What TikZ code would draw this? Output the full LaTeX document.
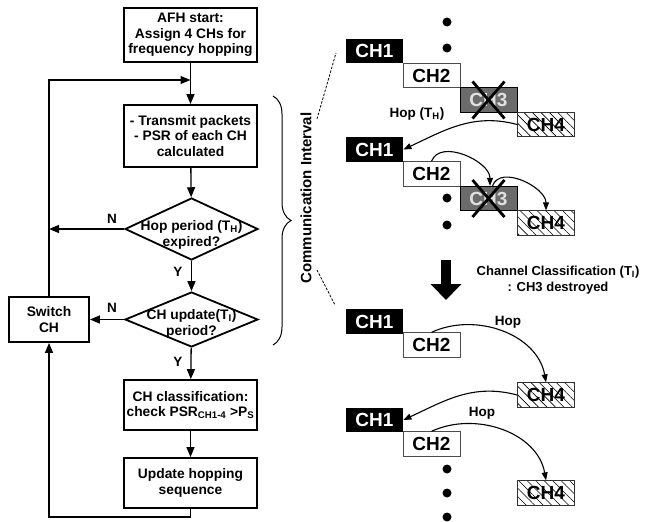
\documentclass[tikz,border=0pt]{standalone}
\usepackage{fontspec}
\setmainfont{Liberation Sans}
\usetikzlibrary{shapes.geometric,arrows.meta,patterns.meta,decorations.pathreplacing}
\definecolor{chgray}{HTML}{6B6B6B}
\begin{document}
\begin{tikzpicture}[x=1pt,y=-1pt,
  font=\bfseries\fontsize{13.8}{15.5}\selectfont,
  fbox/.style={draw,line width=1.8pt,minimum width=133pt,align=center,inner sep=0pt},
  dia/.style={draw,diamond,line width=1.8pt,inner sep=0pt,minimum width=133pt},
  dtext/.style={align=center,inner sep=0pt},
  lbl/.style={inner sep=0pt,font=\bfseries\fontsize{13.5}{15}\selectfont},
  conn/.style={line width=1.3pt,-{Triangle[length=10pt,width=8pt]}},
  chbase/.style={minimum width=57pt,minimum height=24.5pt,inner sep=0pt,line width=0.8pt,
    font=\bfseries\fontsize{19}{19}\selectfont},
  chk/.style={chbase,fill=black,text=white},
  chw/.style={chbase,draw=black!70,fill=white},
  chg/.style={chbase,draw=black,fill=chgray,text=black!12},
  chh/.style={chbase,draw=black!80,pattern={Lines[angle=-45,distance=6pt,line width=0.6pt]}},
  hoparr/.style={line width=1.1pt,-{Triangle[length=8pt,width=6pt]}},
  crossx/.style={line width=2.8pt},
  hoplbl/.style={inner sep=0pt,font=\bfseries\fontsize{13.5}{15}\selectfont},
  dot/.style={fill=black}
]
\useasboundingbox (0,0) rectangle (649,522);

% ---------- flowchart ----------
\node[fbox,minimum height=54pt] (afh) at (190.5,35) {AFH start:\\Assign 4 CHs for\\frequency hopping};
\node[fbox,minimum height=62pt] (tx) at (190.5,136) {- Transmit packets\\- PSR of each CH\\calculated};
\node[dia,minimum height=62pt] (d1) at (191.5,229) {};
\node[dtext] (d1t) at (191.5,235) {Hop period (T\textsubscript{H})\\expired?};
\node[dia,minimum height=55pt] (d2) at (191.5,319.5) {};
\node[dtext] (d2t) at (191.5,324) {CH update(T\textsubscript{I})\\period?};
\node[fbox,minimum width=80pt,minimum height=45pt] (sw) at (49,319.5) {Switch\\CH};
\node[fbox,minimum height=50pt] (cls) at (190.5,405) {CH classification:\\check PSR\textsubscript{CH1-4} >P\textsubscript{S}};
\node[fbox,minimum height=50pt] (upd) at (190.5,483) {Update hopping\\sequence};

\coordinate (lt) at (49,80);
\coordinate (mj) at (190.5,80);
\coordinate (n1) at (49,229);
\coordinate (b1) at (190.5,517);
\coordinate (b2) at (49,517);

\draw[line width=1.3pt] (afh.south) -- (mj);
\draw[conn] (mj) -- (tx.north);
\draw[conn] (sw.north) -- (lt) -- (mj);
\draw[conn] (tx) -- (d1);
\draw[conn] (d1.west) -- (n1);
\draw[conn] (d1) -- (d2);
\draw[conn] (d2.west) -- (sw.east);
\draw[conn] (d2) -- (cls);
\draw[conn] (cls) -- (upd);
\draw[conn] (upd.south) -- (b1) -- (b2) -- (sw.south);

\node[lbl] (ln1) at (112,219) {N};
\node[lbl] (ln2) at (112,308) {N};
\node[lbl] (ly1) at (178,272) {Y};
\node[lbl] (ly2) at (178,362) {Y};

% ---------- brace ----------
\coordinate (brt) at (273,96);
\coordinate (brb) at (273,345);
\draw[line width=1pt,decorate,decoration={brace,amplitude=18pt}] (brt) -- (brb);
\node[rotate=90,inner sep=0pt,font=\bfseries\fontsize{15}{17}\selectfont] (ci) at (306,198) {Communication Interval};
\coordinate (dl1a) at (317,119); \coordinate (dl1b) at (336,53);
\coordinate (dl2a) at (317,270); \coordinate (dl2b) at (335,305);
\draw[dashed,line width=0.8pt,dash pattern=on 2.5pt off 1.5pt] (dl1a) -- (dl1b);
\draw[dashed,line width=0.8pt,dash pattern=on 2.5pt off 1.5pt] (dl2a) -- (dl2b);

% ---------- group 1 ----------
\fill[dot] (447,22) circle (4.5pt);
\fill[dot] (447,48) circle (4.5pt);
\node[chw] (c2a) at (431.5,75.5) {CH2};
\node[chg] (c3a) at (488.5,100) {CH3};
\node[chh] (c4a) at (546,124.5) {CH4};
\node[chk] (c1a) at (374.5,51) {CH1};
\draw[crossx] ([shift={(-16,-18.5)}]c3a.center) -- ([shift={(16,18.5)}]c3a.center);
\draw[crossx] ([shift={(16,-18.5)}]c3a.center) -- ([shift={(-16,18.5)}]c3a.center);
\node[hoplbl] (hth) at (417,114) {Hop (T\textsubscript{H})};

% ---------- group 2 ----------
\node[chw] (c2b) at (431.5,174) {CH2};
\node[chg] (c3b) at (488.5,198.5) {CH3};
\node[chh] (c4b) at (546,223) {CH4};
\node[chk] (c1b) at (374.5,149.5) {CH1};
\draw[crossx] ([shift={(-16,-18.5)}]c3b.center) -- ([shift={(16,18.5)}]c3b.center);
\draw[crossx] ([shift={(16,-18.5)}]c3b.center) -- ([shift={(-16,18.5)}]c3b.center);
\fill[dot] (447,198) circle (4.5pt);
\fill[dot] (447,225) circle (4.5pt);

\draw[hoparr] (c4a.west) to[out=165,in=25] (c1b.east);
\draw[hoparr] (c2b.north) to[out=70,in=90] ([xshift=1.5pt]c3b.north);
\draw[hoparr] ([xshift=4pt]c3b.north) to[out=70,in=90] (c4b.north);

% ---------- classification arrow ----------
\coordinate (ba1) at (446,260);
\coordinate (ba2) at (446,300);
\draw[line width=9.5pt,-{Triangle[length=16pt,width=30pt]}] (ba1) -- (ba2);
\node[align=center,inner sep=0pt,font=\bfseries\fontsize{13}{16}\selectfont] (cc) at (558,280)
  {Channel Classification (T\textsubscript{I})\\: CH3 destroyed};

% ---------- group 3 ----------
\node[chw] (c2c) at (431.5,345) {CH2};
\node[chk] (c1c) at (374.5,321.5) {CH1};
\node[chh] (c4c) at (546,395) {CH4};
\node[hoplbl] (hp1) at (508,322) {Hop};
\draw[hoparr] (c2c.north) to[out=25,in=100] (c4c.north);

% ---------- group 4 ----------
\node[chw] (c2d) at (431.5,444) {CH2};
\node[chk] (c1d) at (374.5,420) {CH1};
\node[chh] (c4d) at (546,493) {CH4};
\node[hoplbl] (hp2) at (482,413) {Hop};
\draw[hoparr] (c4c.west) to[out=165,in=25] (c1d.east);
\draw[hoparr] (c2d.north) to[out=25,in=100] (c4d.north);
\fill[dot] (447,469) circle (4.5pt);
\fill[dot] (447,493) circle (4.5pt);
\fill[dot] (447,517) circle (4.5pt);
\end{tikzpicture}
\end{document}
